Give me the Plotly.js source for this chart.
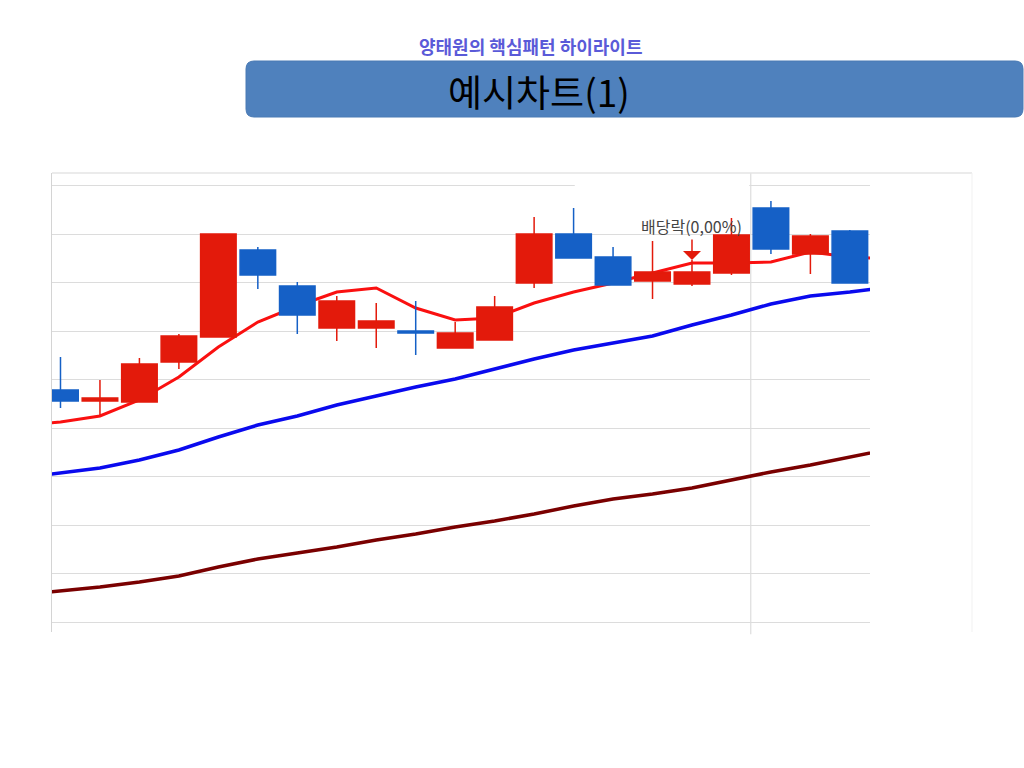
<!DOCTYPE html>
<html>
<head>
<meta charset="utf-8">
<script src="https://cdn.plot.ly/plotly-3.0.1.min.js"></script>
<style>
html,body{margin:0;padding:0;background:#fff;}
#chart{width:1024px;height:768px;}
</style>
</head>
<body>
<div id="chart"></div>
<script>
// ---- data (arbitrary price units) ----
const days  = [1,2,3,4,5,6,7,8,9,10,11,12,13,14,15,16,17,18,19,20,21];
const open  = [232,221,220,260,285,372,336,294,294,291,274,282,339,388,365,341,338,349,414,368,391];
const high  = [265,242,264,288,388,375,340,326,319,321,300,326,405,414,375,381,362,404,421,388,392];
const low   = [214,207,220,253,285,333,288,281,274,267,274,282,334,364,337,323,336,347,368,348,339];
const close = [221,224,258,286,388,347,307,321,301,289,289,315,388,364,337,350,350,387,373,386,339];

const maDays = [0,1,2,3,4,5,6,7,8,9,10,11,12,13,14,15,16,17,18,19,20,21,22];
const ma5  = [196,200,206,222,245,275,300,316,330,334,314,302,304,319,330,339,349,359,359,360,370,365,363];
const ma20 = [144,149,154,162,172,185,197,206,217,226,235,243,253,263,272,279,286,297,307,318,326,330,335];
const ma60 = [27,31,35,40,46,55,63,69,75,82,88,95,101,108,116,123,128,134,142,150,157,165,173];

const dividendDay = 17;
const dividendLabel = '배당락(0,00%)';
const headerText = '양태원의 핵심패턴 하이라이트';
const titleText = '예시차트(1)';

// ---- layout helpers (pixel -> paper) ----
const L = 52, R = 870, T = 173, B = 632;
const PX = x => (x - L) / (R - L);
const PY = y => (B - y) / (B - T);

function roundRect(x0, y0, x1, y1, r) {
  const rx = r / (R - L), ry = r / (B - T);
  const a = PX(x0), b = PX(x1), top = PY(y0), bot = PY(y1);
  return `M${a+rx},${top} L${b-rx},${top} Q${b},${top} ${b},${top-ry} ` +
         `L${b},${bot+ry} Q${b},${bot} ${b-rx},${bot} ` +
         `L${a+rx},${bot} Q${a},${bot} ${a},${bot+ry} ` +
         `L${a},${top-ry} Q${a},${top} ${a+rx},${top} Z`;
}

const yRange = [-10, 449];
const xRange = [0.785, 21.51];

const traces = [
  {type:'scatter', mode:'lines', x:maDays, y:ma60, line:{color:'#7a0000', width:3.5}, hoverinfo:'skip', xaxis:'x', yaxis:'y'},
  {type:'scatter', mode:'lines', x:maDays, y:ma20, line:{color:'#0a0aee', width:3.5}, hoverinfo:'skip', xaxis:'x', yaxis:'y'},
  {type:'scatter', mode:'lines', x:maDays, y:ma5,  line:{color:'#fa1010', width:3}, hoverinfo:'skip', xaxis:'x', yaxis:'y'},
  {type:'candlestick', x:days, open:open, high:high, low:low, close:close,
   xaxis:'x', yaxis:'y2',
   increasing:{line:{color:'#e31a0b', width:1.5}, fillcolor:'#e31a0b'},
   decreasing:{line:{color:'#1560c6', width:1.5}, fillcolor:'#1560c6'},
   whiskerwidth:0, hoverinfo:'skip'}
];

const layout = {
  width:1024, height:768, autosize:false,
  margin:{l:L, r:1024-R, t:T, b:768-B, pad:0},
  paper_bgcolor:'#ffffff', plot_bgcolor:'#ffffff',
  showlegend:false,
  boxgap:0.1, boxgroupgap:0,
  font:{family:'"Noto Sans CJK KR", "Noto Sans", sans-serif'},
  xaxis:{range:xRange, showgrid:false, zeroline:false, showticklabels:false, ticks:'',
         showline:false, rangeslider:{visible:false}, fixedrange:true},
  yaxis:{range:yRange, tick0:0, dtick:48.5, showgrid:true, gridcolor:'#dcdcdc', gridwidth:1,
         zeroline:false, showticklabels:false, ticks:'', showline:true, linecolor:'#d4d4d4', linewidth:1},
  yaxis2:{range:yRange, overlaying:'y', showgrid:false, zeroline:false, showticklabels:false,
          ticks:'', showline:false},
  shapes:[
    // separator line between candles
    {type:'line', xref:'x', yref:'paper', x0:18.49, x1:18.49, y0:-0.005, y1:1,
     line:{color:'#d6d6d6', width:1}, layer:'below'},
    // missing piece of the top gridline
    {type:'rect', xref:'x', yref:'y', x0:14.03, x1:18.45, y0:432, y1:441,
     fillcolor:'#ffffff', line:{width:0}, layer:'above'},
    // top frame line
    {type:'line', xref:'paper', yref:'paper', x0:0, x1:PX(972), y0:1, y1:1,
     line:{color:'#e4e4e4', width:1.5}},
    // faint right frame line
    {type:'line', xref:'paper', yref:'paper', x0:PX(972), x1:PX(972), y0:0, y1:1,
     line:{color:'#f1f1f1', width:1}},
    // title banner
    {type:'path', xref:'paper', yref:'paper', path:roundRect(246, 61, 1023, 117, 8),
     fillcolor:'#4f81bd', line:{color:'#4a7ab4', width:1}}
  ],
  annotations:[
    {xref:'x', yref:'y2', x:dividendDay, y:362, text:dividendLabel, showarrow:true,
     ax:0, ay:-34, arrowcolor:'#e31a0b', arrowwidth:1.5, arrowhead:1, arrowsize:2,
     font:{size:16, color:'#444444'}},
    {xref:'paper', yref:'paper', x:PX(530), y:PY(46), text:headerText, showarrow:false,
     font:{size:18, color:'#5a5ad8', weight:'bold'}, xanchor:'center', yanchor:'middle'},
    {xref:'paper', yref:'paper', x:PX(539), y:PY(91), text:titleText, showarrow:false,
     font:{size:37, color:'#000000'}, xanchor:'center', yanchor:'middle'}
  ]
};

Plotly.newPlot('chart', traces, layout, {staticPlot:true, displayModeBar:false});
</script>
</body>
</html>
